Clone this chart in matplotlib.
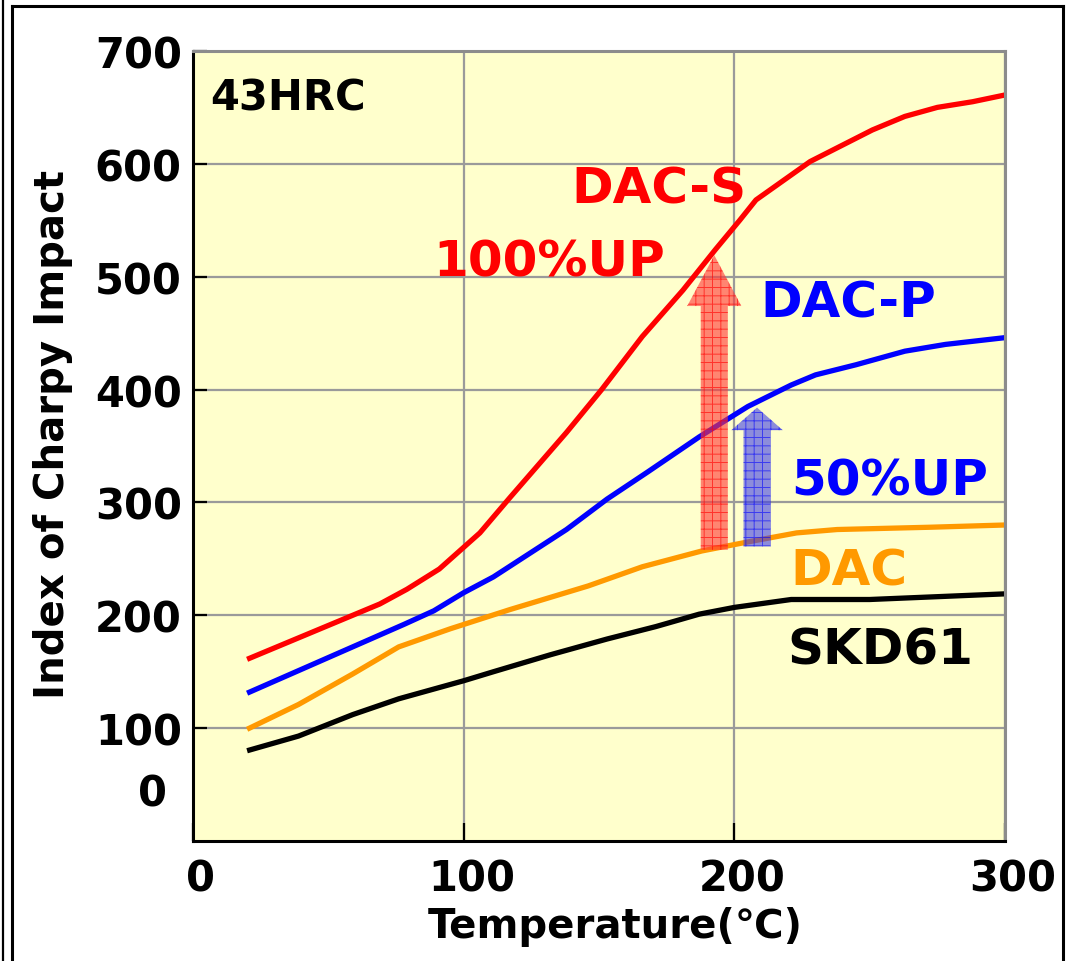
import matplotlib
matplotlib.use("Agg")
from matplotlib import pyplot as plt
from matplotlib.patches import FancyArrow
from matplotlib.lines import Line2D
from matplotlib.transforms import ScaledTranslation, blended_transform_factory

plt.rcParams['font.family'] = ['DejaVu Sans', 'Noto Sans CJK SC']
plt.rcParams['font.weight'] = 'bold'

# temperature (C) / charpy impact index
dacs_t = [20, 69, 79, 91, 106, 117, 138, 151, 166, 181, 193, 202, 208, 228, 251, 263, 275, 288, 300]
dacs_v = [161, 210, 223, 241, 273, 304, 362, 400, 447, 488, 524, 550, 568, 602, 630, 642, 650, 655, 661]
dacp_t = [20, 78, 89, 100, 111, 138, 153, 168, 187, 205, 221, 230, 245, 263, 278, 300]
dacp_v = [131, 192, 204, 220, 234, 276, 303, 327, 358, 385, 404, 413, 422, 434, 440, 446]
dac_t = [20, 39, 59, 76, 95, 117, 146, 166, 188, 205, 223, 238, 272, 300]
dac_v = [99, 121, 148, 172, 188, 205, 226, 243, 257, 265, 273, 276, 278, 280]
skd_t = [20, 39, 59, 76, 100, 111, 132, 153, 171, 187, 200, 212, 221, 250, 300]
skd_v = [80, 93, 112, 126, 142, 150, 165, 179, 190, 201, 207, 211, 214, 214, 219]

x_ticks = [0, 100, 200, 300]
y_ticks = [100, 200, 300, 400, 500, 600, 700]

# improvement arrows: x, bottom, top
up_red = [192.6, 258, 519]
up_blue = [208.4, 261, 384]

fig = plt.figure(figsize=(10.72, 9.62), dpi=100)
ax = fig.add_axes([0.180, 0.1247, 0.7575, 0.8213])
ax.set_facecolor('#ffffcc')
ax.set_xlim(0, 300)
ax.set_ylim(0, 700)
ax.set_xticks(x_ticks)
ax.set_yticks(y_ticks)
ax.set_xticklabels([str(t) for t in x_ticks])
ax.set_yticklabels([str(t) for t in y_ticks])
ax.grid(True, color='#9a9a9a', linewidth=1.6)
ax.set_axisbelow(True)

for s in ['top', 'right']:
    ax.spines[s].set_color('#8c8c8c')
    ax.spines[s].set_linewidth(2.2)
for s in ['left', 'bottom']:
    ax.spines[s].set_color('black')
    ax.spines[s].set_linewidth(2.2)

ax.tick_params(axis='y', direction='in', length=10, width=1.6, pad=8, labelsize=30)
ax.tick_params(axis='x', direction='in', length=13, width=1.6, pad=12, labelsize=30)
for lbl in ax.get_xticklabels():
    lbl.set_transform(lbl.get_transform() + ScaledTranslation(0.08, 0, fig.dpi_scale_trans))

ax.plot(dacs_t, dacs_v, color='#ff0000', linewidth=3.8, solid_capstyle='butt')
ax.plot(dacp_t, dacp_v, color='#0000ff', linewidth=3.8, solid_capstyle='butt')
ax.plot(dac_t, dac_v, color='#ff9900', linewidth=3.8, solid_capstyle='butt')
ax.plot(skd_t, skd_v, color='black', linewidth=3.8, solid_capstyle='butt')

plt.rcParams['hatch.linewidth'] = 0.7
arr = FancyArrow(up_red[0], up_red[1], 0, up_red[2] - up_red[1], width=10, head_width=20,
                 head_length=45, length_includes_head=True, facecolor='#ff3a3a', edgecolor='red',
                 linewidth=0, hatch='++', alpha=0.62, zorder=5)
ax.add_patch(arr)
arr = FancyArrow(up_blue[0], up_blue[1], 0, up_blue[2] - up_blue[1], width=10, head_width=19,
                 head_length=20, length_includes_head=True, facecolor='#3a3ae6', edgecolor='blue',
                 linewidth=0, hatch='++', alpha=0.58, zorder=5)
ax.add_patch(arr)

ax.text(6.3, 648, '43HRC', fontsize=30, color='black', ha='left', va='baseline')
ax.text(172, 566, 'DAC-S', fontsize=36, color='#ff0000', ha='center', va='baseline')
ax.text(131.6, 501, '100%UP', fontsize=36, color='#ff0000', ha='center', va='baseline')
ax.text(242, 465, 'DAC-P', fontsize=36, color='#0000ff', ha='center', va='baseline')
ax.text(257.4, 307, '50%UP', fontsize=36, color='#0000ff', ha='center', va='baseline')
ax.text(242.5, 227, 'DAC', fontsize=36, color='#ff9900', ha='center', va='baseline')
ax.text(254, 157, 'SKD61', fontsize=36, color='black', ha='center', va='baseline')

# the "0" on the y axis sits above the baseline in the original
ax.text(-0.032, 42, '0', fontsize=30, ha='right', va='center',
        transform=blended_transform_factory(ax.transAxes, ax.transData))

fig.text(0.574, 0.036, 'Temperature(℃)', fontsize=29, ha='center', va='center')
fig.text(0.049, 0.548, 'Index of Charpy Impact', fontsize=29, ha='center', va='center', rotation=90)

# outer frame
fig.add_artist(Line2D([3 / 1072, 3 / 1072], [0, 1], color='black', linewidth=1.6))
fig.add_artist(Line2D([12 / 1072, 12 / 1072], [0, 1 - 7 / 962], color='black', linewidth=2.2))
fig.add_artist(Line2D([12 / 1072, 1063 / 1072], [1 - 7 / 962, 1 - 7 / 962], color='black', linewidth=2.2))
fig.add_artist(Line2D([1063 / 1072, 1063 / 1072], [0, 1 - 7 / 962], color='black', linewidth=2.2))

fig.savefig('out.png', dpi=100)
